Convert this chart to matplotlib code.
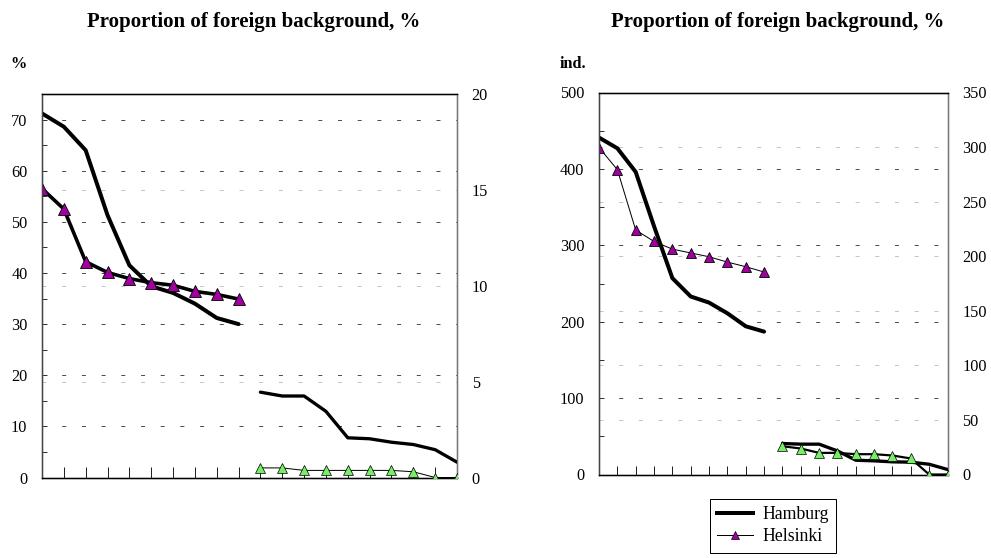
import matplotlib
matplotlib.use('Agg')
import matplotlib.pyplot as plt
from matplotlib.lines import Line2D

plt.rcParams['font.family'] = ['Liberation Serif', 'DejaVu Serif']

# ---------------- data ----------------
pos_first = [0, 1, 2, 3, 4, 5, 6, 7, 8, 9]
pos_second = [10, 11, 12, 13, 14, 15, 16, 17, 18, 19]

# left chart: proportion of foreign background (%)
pct_hamburg_top = [71.2, 68.6, 64.0, 51.3, 41.5, 37.4, 36.1, 34.0, 31.2, 30.0]
pct_helsinki_top = [56.5, 52.5, 42.2, 40.1, 38.9, 38.1, 37.6, 36.4, 35.8, 34.9]
pct_hamburg_low = [4.45, 4.25, 4.25, 3.45, 2.07, 2.02, 1.84, 1.72, 1.45, 0.80]
pct_helsinki_low = [0.50, 0.50, 0.37, 0.37, 0.37, 0.37, 0.37, 0.30, 0.0, 0.0]

# right chart: individuals
ind_hamburg_top = [441, 427, 396, 325, 257, 233, 225, 211, 194, 187]
ind_helsinki_top = [428, 399, 320, 305, 295, 290, 285, 278, 272, 265]
ind_hamburg_low = [28.4, 27.8, 27.8, 21.6, 13.1, 12.5, 11.6, 11.3, 9.4, 4.6]
ind_helsinki_low = [25.9, 23.8, 19.8, 19.8, 18.6, 18.6, 17.4, 14.7, 0.0, 0.0]

title_text = 'Proportion of foreign background, %'
series_names = ['Hamburg', 'Helsinki']

left_yticks_main = [0, 10, 20, 30, 40, 50, 60, 70]
left_yticks_minor = [5, 15, 25, 35, 45, 55, 65]
left_yticks_sec = [0, 5, 10, 15, 20]
right_yticks_main = [0, 100, 200, 300, 400, 500]
right_yticks_minor = [50, 150, 250, 350, 450]
right_yticks_sec = [0, 50, 100, 150, 200, 250, 300, 350]

PX = 0.72  # points per pixel at dpi 100
PURPLE = '#a000a0'
GREEN = '#77ee66'
DARK_GRID = '#505050'
LIGHT_GRID = '#c4c4c4'
FS = 11.7

fig = plt.figure(figsize=(9.91, 5.58), dpi=100)


def setup(ax, ax2, main_ticks, minor_ticks, sec_ticks, ymax, ymax2, xtick_len):
    ax.set_xlim(0, 19)
    ax.set_ylim(0, ymax)
    ax2.set_ylim(0, ymax2)
    ax.set_xticks(range(20))
    ax.tick_params(axis='x', direction='in', length=xtick_len * PX, width=PX,
                   color='#222222', labelbottom=False)
    ax.set_yticks(main_ticks)
    ax.set_yticks(minor_ticks, minor=True)
    ax.tick_params(axis='y', which='both', direction='in', length=5 * PX,
                   width=PX, color='#333333', labelsize=FS, pad=10.5)
    ax2.set_yticks(sec_ticks)
    ax2.tick_params(axis='y', length=0, labelsize=FS, pad=10.5)
    # grid lines
    for v in main_ticks[1:]:
        if v < ymax:
            ax.axhline(v, color=DARK_GRID, lw=PX, linestyle=(0, (4, 15.7)), zorder=0.5)
    scale = ymax / ymax2
    for v in sec_ticks[1:]:
        if v < ymax2:
            ax.axhline(v * scale, color=LIGHT_GRID, lw=PX, linestyle=(0, (4, 15.7)), zorder=0.4)
    for a in (ax, ax2):
        a.spines['top'].set_color('black')
        a.spines['bottom'].set_color('black')
        a.spines['left'].set_color('#444444')
        a.spines['right'].set_color('#777777')
        for s in a.spines.values():
            s.set_linewidth(1.3 * PX)
    ax.patch.set_visible(False)


# ---------- left chart ----------
ax1 = fig.add_axes([42 / 991, 1 - 477.5 / 558, 415 / 991, 383.5 / 558])
ax2 = ax1.twinx()
setup(ax1, ax2, left_yticks_main, left_yticks_minor, left_yticks_sec, 75, 20, 11)

ax1.plot(pos_first, pct_hamburg_top, color='black', lw=4 * PX, solid_capstyle='round', zorder=3)
ax1.plot(pos_first, pct_helsinki_top, color='black', lw=3.6 * PX, marker='^', ms=8.5,
         mfc=PURPLE, mec='black', mew=0.6, zorder=4)
ax2.plot(pos_second, pct_hamburg_low, color='black', lw=3.3 * PX, solid_capstyle='round', zorder=3)
ax2.plot(pos_second, pct_helsinki_low, color='black', lw=1 * PX, marker='^', ms=6.5,
         mfc=GREEN, mec='black', mew=0.5, zorder=4)

# ---------- right chart ----------
ax3 = fig.add_axes([599 / 991, 1 - 474.5 / 558, 348.5 / 991, 382 / 558])
ax4 = ax3.twinx()
setup(ax3, ax4, right_yticks_main, right_yticks_minor, right_yticks_sec, 500, 350, 9)

ax3.plot(pos_first, ind_hamburg_top, color='black', lw=4 * PX, solid_capstyle='round', zorder=3)
ax3.plot(pos_first, ind_helsinki_top, color='black', lw=1 * PX, marker='^', ms=7.5,
         mfc=PURPLE, mec='black', mew=0.6, zorder=4)
ax4.plot(pos_second, ind_hamburg_low, color='black', lw=3.3 * PX, solid_capstyle='round', zorder=3)
ax4.plot(pos_second, ind_helsinki_low, color='black', lw=2.2 * PX, marker='^', ms=7,
         mfc=GREEN, mec='black', mew=0.5, zorder=4)

# ---------- texts ----------
fig.text(254 / 991, 1 - 22 / 558, title_text, ha='center', va='center',
         fontweight='bold', fontsize=15)
fig.text(778 / 991, 1 - 22 / 558, title_text, ha='center', va='center',
         fontweight='bold', fontsize=15)
fig.text(18 / 991, 1 - 64 / 558, '%', ha='center', va='center', fontweight='bold', fontsize=FS)
fig.text(573 / 991, 1 - 64 / 558, 'ind.', ha='center', va='center', fontweight='bold', fontsize=FS)

handles = [Line2D([], [], color='black', lw=4 * PX),
           Line2D([], [], color='black', lw=1 * PX, marker='^', ms=6,
                  mfc=PURPLE, mec='black', mew=0.5)]
leg = fig.legend(handles, series_names, loc='upper center',
                 bbox_to_anchor=(773 / 991, 1 - 499 / 558), frameon=True, fancybox=False,
                 edgecolor='black', framealpha=1, borderaxespad=0, fontsize=12.8,
                 handlelength=2.05, handletextpad=0.55, borderpad=0.4, labelspacing=0.3)
leg.get_frame().set_linewidth(PX)

fig.savefig('out.png', dpi=100)
